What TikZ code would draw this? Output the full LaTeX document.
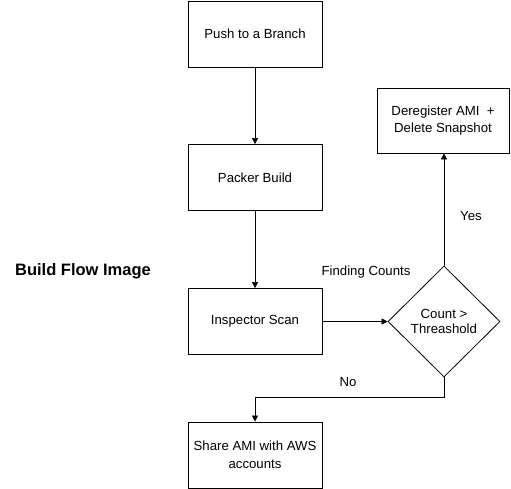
\documentclass[tikz,border=0pt]{standalone}
\usepackage{fontspec}
\setmainfont{Liberation Sans}
\usetikzlibrary{shapes.geometric,arrows.meta}
\begin{document}
\begin{tikzpicture}[x=1pt,y=-1pt,font=\fontsize{13.2}{15.5}\selectfont,
  box/.style={draw, thick, minimum width=134pt, minimum height=66pt, align=center, inner sep=2pt,
    font=\fontsize{13.2}{17.5}\selectfont},
  dec/.style={draw, thick, diamond, minimum width=112pt, minimum height=111pt, align=center, inner sep=0pt, aspect=1},
  arr/.style={-{Triangle[length=6pt,width=6pt]}, semithick}]
\useasboundingbox (0,0) rectangle (511,489);
\node[box] (push) at (255,34) {Push to a Branch};
\node[box] (pack) at (255,177.5) {Packer Build};
\node[box] (insp) at (255,321.5) {Inspector Scan};
\node[box] (share) at (255,455) {Share AMI with AWS\\accounts};
\node[box, minimum width=132pt, minimum height=65pt] (dereg) at (443,120.5) {Deregister AMI\ \ +\\Delete Snapshot};
\node[dec] (cnt) at (444,321.5) {Count \textgreater\\Threashold};
\node[font=\bfseries\fontsize{16.5}{19}\selectfont] (title) at (83,271) {Build Flow Image};
\draw[arr] (push) -- (pack);
\draw[arr] (pack) -- (insp);
\draw[arr] (insp) -- (cnt.west);
\draw[arr] (cnt.north) -- (dereg.south -| cnt.north);
\coordinate (bend) at (444,397);
\draw[arr] (cnt.south) -- (bend) -| (share.north);
\node (find) at (366,272) {Finding Counts};
\node (yes) at (471,216) {Yes};
\node (no) at (348,382) {No};
\end{tikzpicture}
\end{document}
